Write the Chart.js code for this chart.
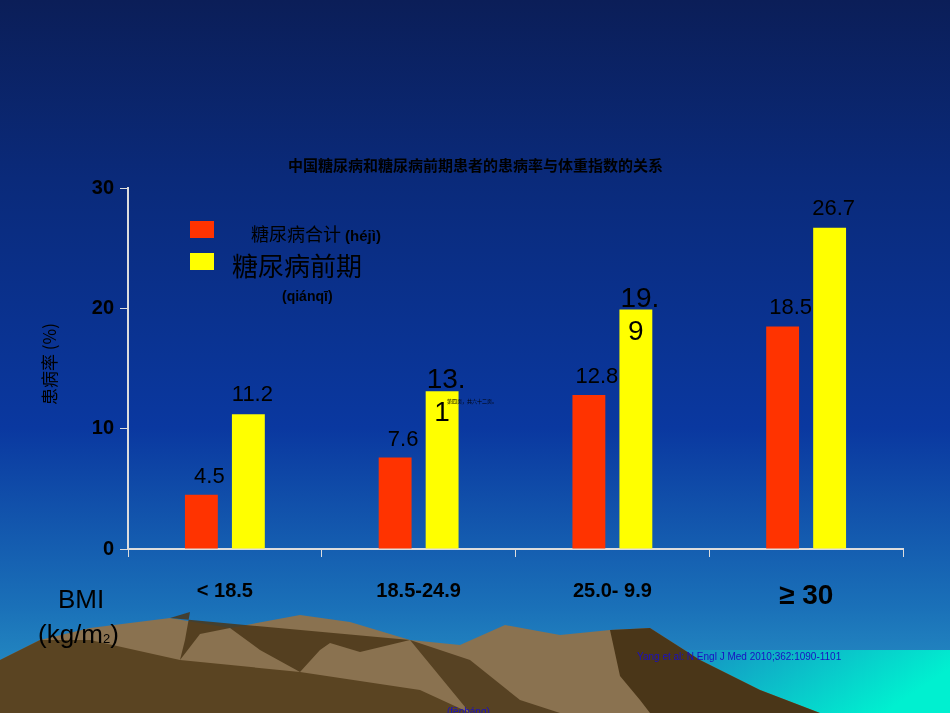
<!DOCTYPE html>
<html><head><meta charset="utf-8">
<script src="https://cdn.jsdelivr.net/npm/chart.js@4"></script>
<style>
html,body{margin:0;padding:0;}
#wrap{position:relative;width:950px;height:713px;overflow:hidden;
background:linear-gradient(to bottom,#0b1e58 0%,#0a2a7a 25%,#0a38a0 60%,#1a70b8 85%,#2a9ac8 100%);
font-family:"Liberation Sans",Arial,sans-serif;}
#bg{position:absolute;left:0;top:0}
canvas{position:absolute;left:0;top:0}
.t{position:absolute;color:#000;white-space:nowrap}
</style></head><body>
<div id="wrap">
<svg id="bg" width="950" height="713">
<defs><linearGradient id="sea" x1="0" y1="0" x2="1" y2="0.3">
<stop offset="0" stop-color="#1a80c0"/><stop offset="1" stop-color="#00f0d0"/></linearGradient></defs>
<rect x="640" y="650" width="310" height="63" fill="url(#sea)"/>
<polygon points="0,660 40,640 90,628 170,618 230,628 300,615 350,622 410,640 460,645 505,625 560,635 610,630 650,628 700,660 760,690 820,713 0,713" fill="#8a7250"/>
<polygon points="0,660 40,640 90,640 180,660 300,672 420,690 470,713 0,713" fill="#5a4422"/>
<polygon points="170,618 190,612 185,640 180,660 200,634 230,628 260,650 300,672 320,650 330,643 360,652 410,640" fill="#4a3618" opacity="0.85"/>
<polygon points="610,630 650,628 700,660 760,690 820,713 650,713 640,700 620,676" fill="#4a3618"/>
<polygon points="410,640 470,660 520,700 560,713 470,713" fill="#4a3618" opacity="0.8"/>
</svg>
<canvas id="c" width="950" height="713"></canvas>
<div class="t" style="left:288px;top:154px;font-size:15px;font-weight:bold;font-family:'Noto Sans CJK SC';">中国糖尿病和糖尿病前期患者的患病率与体重指数的关系</div>
<div style="position:absolute;left:190px;top:221px;width:24px;height:17px;background:#ff3300"></div>
<div style="position:absolute;left:190px;top:253px;width:24px;height:17px;background:#ffff00"></div>
<div class="t" style="left:251px;top:220px;font-size:18px;font-family:'Noto Sans CJK SC';">糖尿病合计 <span style="font-family:'Liberation Sans';font-size:15px;font-weight:bold">(héjì)</span></div>
<div class="t" style="left:232px;top:246px;font-size:26px;font-family:'Noto Sans CJK SC';">糖尿病前期</div>
<div class="t" style="left:282px;top:288px;font-size:14px;font-weight:bold;">(qiánqī)</div>
<div class="t" style="left:36px;font-size:17px;font-family:'Noto Sans CJK SC';transform:rotate(-90deg);transform-origin:left top;top:405px;">患病率 (%)</div>
<div class="t" style="left:58px;top:584px;font-size:26px;">BMI</div>
<div class="t" style="left:38px;top:619px;font-size:26px;">(kg/m<span style="font-size:13px">2</span>)</div>
<div class="t" style="left:447px;top:397px;font-size:5px;font-family:'Noto Sans CJK SC';">第四页，共六十二页。</div>
<div class="t" style="left:637px;top:651px;font-size:10px;color:#1a10c0;">Yang et al: N Engl J Med 2010;362:1090-1101</div>
<div class="t" style="left:447px;top:706px;font-size:10px;color:#1a10c0;">(fēnháng)</div>
</div>
<script>
const categories=["< 18.5","18.5-24.9","25.0- 9.9","≥ 30"];
const diabetes=[4.5,7.6,12.8,18.5];
const prediabetes=[11.2,13.1,19.9,26.7];
const diabetesLabels=["4.5","7.6","12.8","18.5"];
const prediabetesLabels=[["11.2"],["13.","1"],["19.","9"],["26.7"]];
const labelPlugin={id:'lbl',afterDatasetsDraw(ch){
 const ctx=ch.ctx;ctx.save();ctx.fillStyle='#000';ctx.textAlign='center';
 ch.getDatasetMeta(0).data.forEach((b,i)=>{ctx.font='22px "Liberation Sans"';ctx.textBaseline='bottom';ctx.fillText(diabetesLabels[i],b.x+8,b.y-7);});
 ch.getDatasetMeta(1).data.forEach((b,i)=>{const l=prediabetesLabels[i];
  if(l.length==1){ctx.font='22px "Liberation Sans"';ctx.textBaseline='bottom';ctx.fillText(l[0],b.x+4,b.y-8);}
  else{ctx.font='28px "Liberation Sans"';ctx.textBaseline='alphabetic';ctx.fillText(l[0],b.x+4,b.y-3);ctx.fillText(l[1],b.x,b.y+30);}
 });ctx.restore();}};
new Chart(document.getElementById('c'),{type:'bar',
 data:{labels:categories,datasets:[
  {data:diabetes,backgroundColor:'#ff3300'},
  {data:prediabetes,backgroundColor:'#ffff00'}]},
 options:{responsive:false,animation:false,events:[],
  layout:{padding:{left:0,top:188,right:47,bottom:0}},
  datasets:{bar:{barPercentage:0.7,categoryPercentage:0.485}},
  plugins:{legend:{display:false},tooltip:{enabled:false}},
  scales:{
   x:{afterFit(s){s.height=164;},grid:{display:true,drawOnChartArea:false,color:'#ddd',tickLength:8,offset:true},
    border:{color:'#ddd',width:2},
    ticks:{color:'#000',padding:22,font:(c)=>({size:c.index==3?28:20,weight:'bold',family:'Liberation Sans'})}},
   y:{min:0,max:30,afterFit(s){s.width=128;},
    ticks:{stepSize:10,color:'#000',font:{size:20,weight:'bold',family:'Liberation Sans'},padding:6},
    grid:{drawOnChartArea:false,color:'#ddd',tickLength:8},border:{color:'#ddd',width:2}}}},
 plugins:[labelPlugin]});
</script></body></html>
